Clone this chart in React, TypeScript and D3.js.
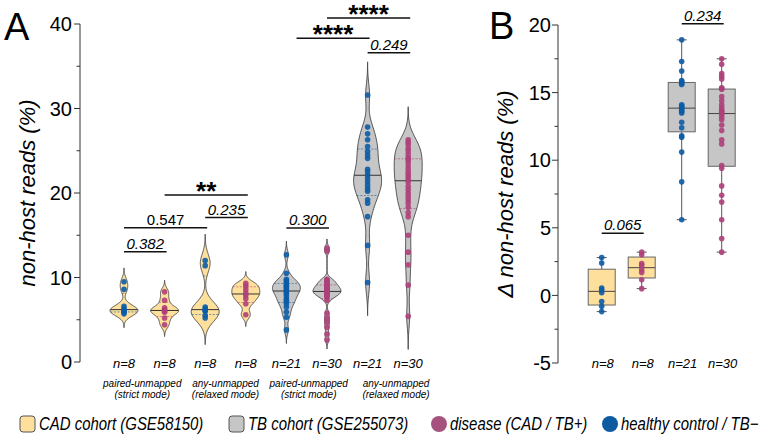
import React from "react";
import * as d3 from "d3";

// panel A: % non-host reads per group (violins)
const cadStrictHealthy = [9.5, 8.6, 6.6, 6.3, 6.1, 6.0, 5.9, 5.7];
const cadStrictDisease = [8.3, 7.3, 6.4, 6.2, 6.0, 5.9, 5.2, 4.4];
const cadRelaxedHealthy = [12.0, 11.4, 6.5, 6.3, 6.1, 6.0, 5.5, 5.2];
const cadRelaxedDisease = [9.3, 9.0, 8.6, 8.2, 7.9, 7.5, 6.9, 5.6];
const tbStrictHealthy = [3.8, 5.3, 5.9, 6.5, 6.9, 7.2, 7.4, 7.7, 8.0, 8.2, 8.4, 8.5, 8.7, 8.9, 9.0, 9.2, 9.4, 9.6, 9.8, 10.5, 12.7];
const tbStrictDisease = [2.6, 3.3, 4.1, 4.7, 5.2, 5.8, 7.3, 7.6, 7.8, 7.9, 8.0, 8.1, 8.2, 8.3, 8.3, 8.4, 8.5, 8.6, 8.7, 8.8, 8.9, 9.0, 9.1, 9.2, 9.4, 9.6, 9.7, 9.8, 13.1, 13.5];
const tbRelaxedHealthy = [9.4, 13.8, 17.2, 18.8, 19.2, 20.2, 20.5, 20.9, 21.3, 21.7, 22.1, 22.5, 22.8, 24.1, 24.5, 24.9, 25.5, 26.3, 27.0, 27.8, 31.6];
const tbRelaxedDisease = [5.4, 9.1, 11.5, 13.0, 15.0, 17.2, 17.7, 18.3, 18.8, 19.2, 19.6, 20.0, 20.4, 20.8, 21.3, 21.6, 21.9, 22.2, 22.5, 22.9, 23.3, 23.7, 24.0, 24.2, 24.6, 25.0, 25.3, 25.7, 26.0, 26.3];

const violinValues = [cadStrictHealthy, cadStrictDisease, cadRelaxedHealthy, cadRelaxedDisease, tbStrictHealthy, tbStrictDisease, tbRelaxedHealthy, tbRelaxedDisease];
const violinCohort = ["CAD", "CAD", "CAD", "CAD", "TB", "TB", "TB", "TB"];
const violinStatus = ["healthy", "disease", "healthy", "disease", "healthy", "disease", "healthy", "disease"];
const nLabelsA = ["n=8", "n=8", "n=8", "n=8", "n=21", "n=30", "n=21", "n=30"];
const modeLabels = [["paired-unmapped", "(strict mode)"], ["any-unmapped", "(relaxed mode)"], ["paired-unmapped", "(strict mode)"], ["any-unmapped", "(relaxed mode)"]];
const modeAt = [0.45, 2.5, 4.55, 6.7];
const ticksA = [0, 10, 20, 30, 40];
const minorA = [5, 15, 25, 35];

const bracketsA = [
  { from: 0, to: 1, at: 13.05, label: "0.382", kind: "italic" },
  { from: 0, to: 2, at: 15.9, label: "0.547", kind: "normal" },
  { from: 2, to: 3, at: 17.1, label: "0.235", kind: "italic" },
  { from: 1, to: 3, at: 19.76, label: "**", kind: "stars" },
  { from: 4, to: 5, at: 15.86, label: "0.300", kind: "italic" },
  { from: 4.25, to: 6, at: 38.3, label: "****", kind: "stars" },
  { from: 5, to: 7, at: 40.7, label: "****", kind: "stars" },
  { from: 6, to: 7, at: 36.6, label: "0.249", kind: "italic" },
];

// panel B: delta non-host reads (box plots)
const deltaCadHealthy = [2.8, 2.4, 0.55, 0.4, 0.2, -0.45, -0.8, -1.2];
const deltaCadDisease = [3.2, 3.0, 2.35, 2.2, 1.9, 1.7, 1.15, 0.5];
const deltaTbHealthy = [18.9, 17.3, 16.6, 15.9, 15.8, 15.7, 15.6, 14.1, 14.0, 13.9, 13.85, 13.7, 13.6, 13.5, 12.8, 12.4, 11.8, 11.7, 10.6, 8.4, 5.6];
const deltaTbDisease = [17.5, 17.1, 16.4, 16.2, 16.0, 15.35, 15.3, 15.25, 14.7, 14.4, 14.1, 13.9, 13.7, 13.6, 13.5, 13.4, 13.2, 13.0, 12.6, 12.2, 11.5, 11.2, 9.6, 9.4, 8.1, 7.4, 6.9, 5.6, 4.2, 3.2];
const boxValues = [deltaCadHealthy, deltaCadDisease, deltaTbHealthy, deltaTbDisease];
const boxCohort = ["CAD", "CAD", "TB", "TB"];
const boxStatus = ["healthy", "disease", "healthy", "disease"];
const nLabelsB = ["n=8", "n=8", "n=21", "n=30"];
const ticksB = [-5, 0, 5, 10, 15, 20];
const minorB = [-2.5, 2.5, 7.5, 12.5, 17.5];
const bracketsB = [
  { from: 0, to: 1, at: 4.6, label: "0.065" },
  { from: 2, to: 3, at: 20.1, label: "0.234" },
];

const legendItems = [
  { label: "CAD cohort (GSE58150)", shape: "box", key: "CAD" },
  { label: "TB cohort (GSE255073)", shape: "box", key: "TB" },
  { label: "disease (CAD / TB+)", shape: "dot", key: "disease" },
  { label: "healthy control / TB\u2212", shape: "dot", key: "healthy" },
];
const legendX = [20, 229, 431, 602];

const fills: Record<string, string> = { CAD: "#FEDF9C", TB: "#C6C6C6" };
const dots: Record<string, string> = { healthy: "#0B5CA6", disease: "#AE4079" };
const legendDots: Record<string, string> = { healthy: "#0E5AA0", disease: "#A5537E" };

const font = "'Liberation Sans', Arial, Helvetica, sans-serif";

// quartiles the way Prism does it, (n+1)p
const quant = (vals: number[], p: number) => {
  const s = [...vals].sort((a, b) => a - b);
  const n = s.length;
  const h = (n + 1) * p;
  if (h <= 1) return s[0];
  if (h >= n) return s[n - 1];
  const lo = Math.floor(h);
  return s[lo - 1] + (h - lo) * (s[lo] - s[lo - 1]);
};

const makeKde = (vals: number[]) => {
  const sd = d3.deviation(vals) || 1;
  const iqr = quant(vals, 0.75) - quant(vals, 0.25);
  const spread = iqr > 0 ? Math.min(sd, iqr / 1.34) : sd;
  const bw = 0.65 * 0.9 * spread * Math.pow(vals.length, -0.2);
  const dens = (v: number) => d3.sum(vals, (x) => Math.exp(-0.5 * ((v - x) / bw) ** 2));
  const lo = (d3.min(vals) as number) - 3 * bw;
  const hi = (d3.max(vals) as number) + 3 * bw;
  const grid = d3.range(0, 141).map((i) => lo + ((hi - lo) * i) / 140);
  const peak = d3.max(grid, dens) as number;
  return { grid, dens: (v: number) => dens(v) / peak };
};

const App = () => {
  const yA = d3.scaleLinear().domain([0, 40]).range([362, 24]);
  const xA = d3.scaleLinear().domain([0, 7]).range([124, 408.2]);
  const yB = d3.scaleLinear().domain([-5, 20]).range([363, 25]);
  const xB = d3.scaleLinear().domain([0, 3]).range([601.7, 721.7]);
  const halfW = 14;

  return (
    <svg width={775} height={437} style={{ position: "absolute", left: 0, top: 0, background: "#fff" }} fontFamily={font}>
      {/* panel letters */}
      <text x={4} y={40} fontSize={38}>A</text>
      <text x={489} y={39} fontSize={38}>B</text>

      {/* axis A */}
      <line x1={80} x2={80} y1={yA(40)} y2={yA(0)} stroke="#333" />
      {ticksA.map((t) => (
        <g key={t}>
          <line x1={74} x2={80} y1={yA(t)} y2={yA(t)} stroke="#333" />
          <text x={72} y={yA(t)} dy="0.36em" textAnchor="end" fontSize={20}>{t}</text>
        </g>
      ))}
      {minorA.map((t) => (
        <line key={t} x1={76.5} x2={80} y1={yA(t)} y2={yA(t)} stroke="#333" />
      ))}
      <text transform={`translate(35,${(yA(0) + yA(40)) / 2}) rotate(-90)`} textAnchor="middle" fontSize={22} fontStyle="italic">
        non-host reads (%)
      </text>

      {/* violins */}
      {violinValues.map((vals, i) => {
        const cx = xA(i);
        const k = makeKde(vals);
        const area = d3
          .area<number>()
          .x0((v) => cx - k.dens(v) * halfW)
          .x1((v) => cx + k.dens(v) * halfW)
          .y((v) => yA(v))
          .curve(d3.curveBasis);
        const col = dots[violinStatus[i]];
        const med = quant(vals, 0.5);
        const q1 = quant(vals, 0.25);
        const q3 = quant(vals, 0.75);
        return (
          <g key={i}>
            <path d={area(k.grid) || ""} fill={fills[violinCohort[i]]} stroke="#444" strokeWidth={0.9} />
            {[q1, q3].map((q, j) => (
              <line key={j} x1={cx - k.dens(q) * halfW} x2={cx + k.dens(q) * halfW} y1={yA(q)} y2={yA(q)} stroke={col} strokeWidth={0.8} strokeDasharray="2,1.5" opacity={0.75} />
            ))}
            <line x1={cx - k.dens(med) * halfW} x2={cx + k.dens(med) * halfW} y1={yA(med)} y2={yA(med)} stroke="#333" strokeWidth={1} />
            {vals.map((v, j) => (
              <circle key={j} cx={cx} cy={yA(v)} r={2.8} fill={col} opacity={0.9} />
            ))}
            <text x={cx} y={368} textAnchor="middle" fontSize={13} fontStyle="italic">{nLabelsA[i]}</text>
          </g>
        );
      })}

      {modeLabels.map((lines, i) => (
        <text key={i} x={xA(modeAt[i])} textAnchor="middle" fontSize={10} fontStyle="italic">
          <tspan x={xA(modeAt[i])} y={387}>{lines[0]}</tspan>
          <tspan x={xA(modeAt[i])} y={398}>{lines[1]}</tspan>
        </text>
      ))}

      {/* comparisons A */}
      {bracketsA.map((b, i) => {
        const x1 = xA(b.from);
        const x2 = xA(b.to) + 2;
        const y = yA(b.at);
        const stars = b.kind === "stars";
        return (
          <g key={i}>
            <line x1={x1} x2={x2} y1={y} y2={y} stroke="#111" strokeWidth={1.5} />
            <text
              x={(x1 + x2) / 2}
              y={stars ? y + 4.5 : y - 3}
              textAnchor="middle"
              fontSize={stars ? 26 : 15}
              fontWeight={stars ? "bold" : "normal"}
              fontStyle={b.kind === "italic" ? "italic" : "normal"}
            >
              {b.label}
            </text>
          </g>
        );
      })}

      {/* axis B */}
      <line x1={558} x2={558} y1={yB(20)} y2={yB(-5)} stroke="#333" />
      {ticksB.map((t) => (
        <g key={t}>
          <line x1={552} x2={558} y1={yB(t)} y2={yB(t)} stroke="#333" />
          <text x={551} y={yB(t)} dy="0.36em" textAnchor="end" fontSize={20}>{t}</text>
        </g>
      ))}
      {minorB.map((t) => (
        <line key={t} x1={554.5} x2={558} y1={yB(t)} y2={yB(t)} stroke="#333" />
      ))}
      <text transform={`translate(513,${(yB(-5) + yB(20)) / 2}) rotate(-90)`} textAnchor="middle" fontSize={22} fontStyle="italic">
        Δ non-host reads (%)
      </text>

      {/* boxes */}
      {boxValues.map((vals, i) => {
        const cx = xB(i);
        const lo = d3.min(vals) as number;
        const hi = d3.max(vals) as number;
        const q1 = quant(vals, 0.25);
        const q3 = quant(vals, 0.75);
        const med = quant(vals, 0.5);
        const bw = 13.5;
        const col = dots[boxStatus[i]];
        return (
          <g key={i}>
            <line x1={cx} x2={cx} y1={yB(hi)} y2={yB(lo)} stroke="#555" />
            <line x1={cx - 5} x2={cx + 5} y1={yB(hi)} y2={yB(hi)} stroke="#555" />
            <line x1={cx - 5} x2={cx + 5} y1={yB(lo)} y2={yB(lo)} stroke="#555" />
            <rect x={cx - bw} width={bw * 2} y={yB(q3)} height={yB(q1) - yB(q3)} fill={fills[boxCohort[i]]} stroke="#666" />
            <line x1={cx - bw} x2={cx + bw} y1={yB(med)} y2={yB(med)} stroke="#444" />
            {vals.map((v, j) => (
              <circle key={j} cx={cx} cy={yB(v)} r={2.8} fill={col} opacity={0.9} />
            ))}
            <text x={cx + 1} y={368} textAnchor="middle" fontSize={13} fontStyle="italic">{nLabelsB[i]}</text>
          </g>
        );
      })}
      {bracketsB.map((b, i) => {
        const x1 = xB(b.from);
        const x2 = xB(b.to) + 2;
        const y = yB(b.at);
        return (
          <g key={i}>
            <line x1={x1} x2={x2} y1={y} y2={y} stroke="#111" strokeWidth={1.5} />
            <text x={(x1 + x2) / 2} y={y - 3} textAnchor="middle" fontSize={15} fontStyle="italic">{b.label}</text>
          </g>
        );
      })}

      {/* legend, narrow-looking text */}
      {legendItems.map((it, i) => {
        const x = legendX[i];
        return (
          <g key={i}>
            {it.shape === "box" ? (
              <rect x={x} y={416} width={15} height={16} rx={3} fill={fills[it.key]} stroke="#555" />
            ) : (
              <circle cx={x + 8} cy={424} r={8} fill={legendDots[it.key]} />
            )}
            <text transform={`translate(${x + 19},430) scale(0.83,1)`} fontSize={18} fontStyle="italic">
              {it.label}
            </text>
          </g>
        );
      })}
    </svg>
  );
};

export default App;
